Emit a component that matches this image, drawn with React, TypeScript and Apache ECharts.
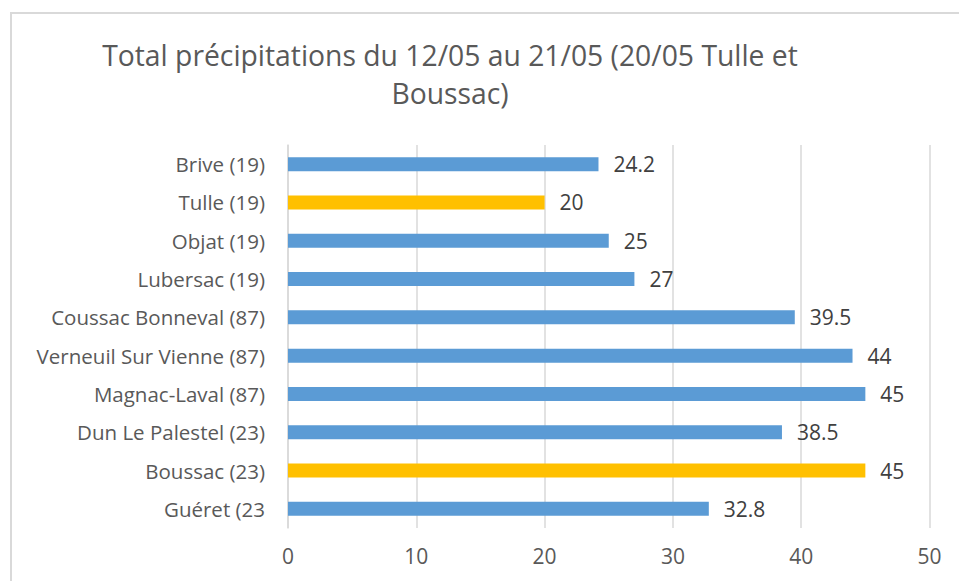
import React, { useEffect, useRef } from "react";
import * as echarts from "echarts";

const categories = [
  "Brive (19)",
  "Tulle (19)",
  "Objat (19)",
  "Lubersac (19)",
  "Coussac Bonneval (87)",
  "Verneuil Sur Vienne (87)",
  "Magnac-Laval (87)",
  "Dun Le Palestel (23)",
  "Boussac (23)",
  "Guéret (23",
];
const values = [24.2, 20, 25, 27, 39.5, 44, 45, 38.5, 45, 32.8];
const highlighted = ["Tulle (19)", "Boussac (23)"];
const titleText = "Total précipitations du 12/05 au 21/05 (20/05 Tulle et\nBoussac)";

const BLUE = "#5B9BD5";
const GOLD = "#FFC000";
const FONT = "'Open Sans', 'Noto Sans', sans-serif";

export default function App() {
  const ref = useRef<HTMLDivElement>(null);
  useEffect(() => {
    document.body.style.margin = "0";
    if (!ref.current) return;
    const chart = echarts.init(ref.current, undefined, { renderer: "svg" });
    chart.setOption({
      animation: false,
      backgroundColor: "#ffffff",
      textStyle: { fontFamily: FONT },
      title: {
        text: titleText,
        left: 450,
        top: 36,
        textAlign: "center",
        padding: 0,
        textStyle: {
          fontFamily: FONT,
          fontSize: 28.3,
          fontWeight: "normal",
          color: "#595959",
          lineHeight: 38,
        },
      },
      graphic: [
        {
          type: "rect",
          shape: { x: 11, y: 13, width: 1000, height: 700 },
          style: { fill: "none", stroke: "#d9d9d9", lineWidth: 2 },
          silent: true,
        },
      ],
      grid: { left: 288, right: 29.5, top: 145, bottom: 53, containLabel: false },
      xAxis: {
        type: "value",
        min: 0,
        max: 50,
        interval: 10,
        axisLine: { show: false },
        axisTick: { show: false },
        splitLine: { show: true, lineStyle: { color: "#d9d9d9", width: 1.5 } },
        axisLabel: { color: "#595959", fontSize: 21, fontFamily: FONT, margin: 17 },
      },
      yAxis: {
        type: "category",
        inverse: true,
        data: categories,
        axisLine: { show: true, lineStyle: { color: "#d9d9d9", width: 1.5 } },
        axisTick: { show: false },
        axisLabel: { color: "#595959", fontSize: 20.5, fontFamily: FONT, margin: 23 },
      },
      series: [
        {
          type: "bar",
          barWidth: 14,
          data: values.map((v, i) => ({
            value: v,
            itemStyle: { color: highlighted.includes(categories[i]) ? GOLD : BLUE },
          })),
          label: {
            show: true,
            position: "right",
            distance: 15,
            color: "#404040",
            fontSize: 21,
            fontFamily: FONT,
          },
        },
      ],
    });
    return () => chart.dispose();
  }, []);
  return <div ref={ref} style={{ width: 959, height: 581 }} />;
}
